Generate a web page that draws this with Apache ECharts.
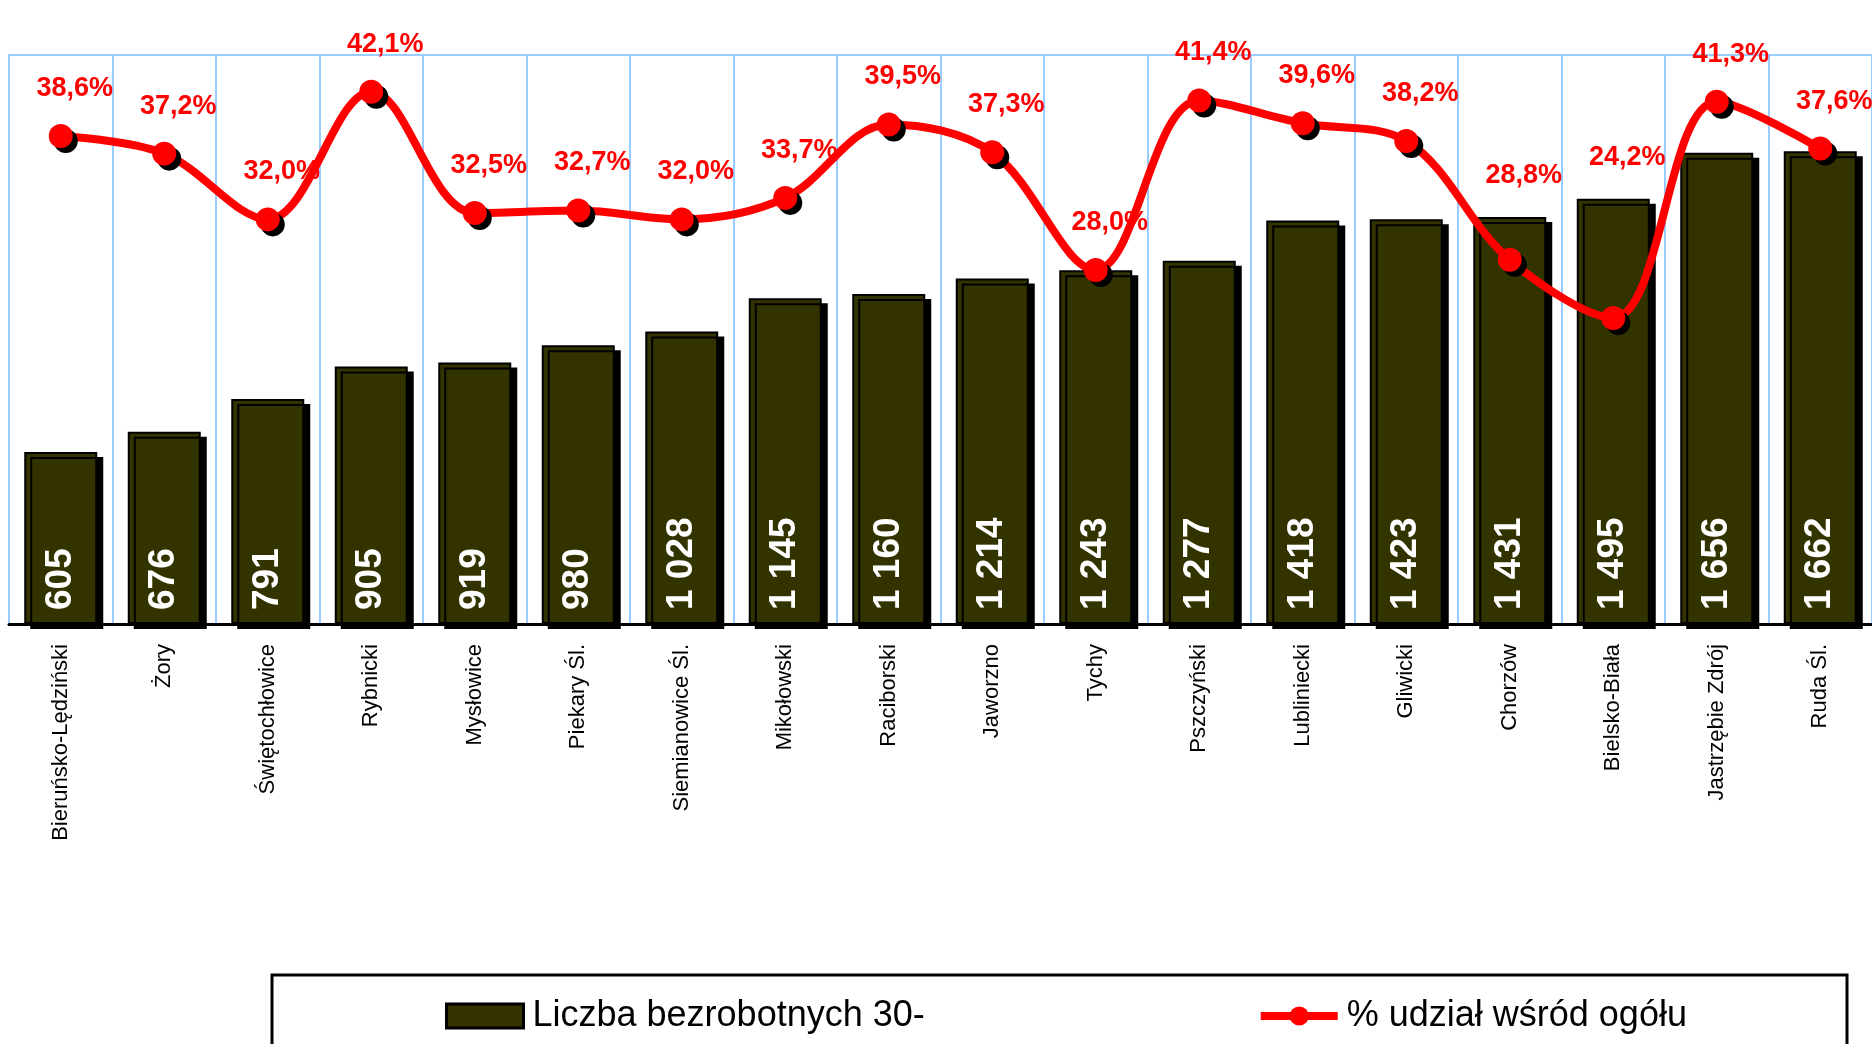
<!DOCTYPE html>
<html>
<head>
<meta charset="utf-8">
<script src="https://cdn.jsdelivr.net/npm/echarts@6/dist/echarts.min.js"></script>
<style>
    html, body { margin: 0; padding: 0; background: #fff; }
    #ET1 { width: 1872px; height: 1044px; }
</style>
</head>
<body>
<div id="ET1"></div>
<script>
var powiaty = ['Bieruńsko-Lędziński', 'Żory', 'Świętochłowice', 'Rybnicki', 'Mysłowice', 'Piekary Śl.',
    'Siemianowice Śl.', 'Mikołowski', 'Raciborski', 'Jaworzno', 'Tychy', 'Pszczyński', 'Lubliniecki',
    'Gliwicki', 'Chorzów', 'Bielsko-Biała', 'Jastrzębie Zdrój', 'Ruda Śl.'];
var liczba = [605, 676, 791, 905, 919, 980, 1028, 1145, 1160, 1214, 1243, 1277, 1418, 1423, 1431, 1495, 1656, 1662];
var udzial = [38.6, 37.2, 32.0, 42.1, 32.5, 32.7, 32.0, 33.7, 39.5, 37.3, 28.0, 41.4, 39.6, 38.2, 28.8, 24.2, 41.3, 37.6];

~function () {
    var myChart = echarts.init(ET1);
    var fontArial = '"Liberation Sans", Arial, sans-serif';
    var barMax = 2000, lineMax = 45;
    var gridTop = 55, gridBottom = 420;
    var plotH = 1044 - gridTop - gridBottom;

    function spaced(v) {
        return String(v).replace(/\B(?=(\d{3})+(?!\d))/g, ' ');
    }

    // gdy słupek sięga wyżej niż punkt linii, etykieta idzie nad słupek
    var lineData = udzial.map(function (v, i) {
        var gap = (liczba[i] / barMax - v / lineMax) * plotH;
        return {value: v, label: {distance: Math.max(22, gap + 16)}};
    });

    var option = {
        animation: false,
        grid: {
            left: 9,
            right: -18,
            top: gridTop,
            bottom: gridBottom,
            show: true,
            borderColor: '#99CCFF',
            borderWidth: 2
        },
        legend: {
            left: 440,
            top: 993,
            itemWidth: 77,
            itemHeight: 24,
            itemGap: 332,
            textStyle: {
                fontFamily: fontArial,
                fontSize: 36,
                color: '#000',
                padding: [0, 0, 0, 4]
            },
            data: [
                {
                    name: 'Liczba bezrobotnych 30-',
                    icon: 'rect',
                    itemStyle: {shadowOffsetX: 0, shadowOffsetY: 0, shadowColor: 'transparent', borderWidth: 3}
                },
                {
                    name: '% udział wśród ogółu',
                    itemStyle: {shadowOffsetX: 0, shadowOffsetY: 0, shadowColor: 'transparent'},
                    lineStyle: {width: 8}
                }
            ]
        },
        graphic: [
            {
                type: 'rect',
                shape: {x: 272, y: 975, width: 1575, height: 120},
                style: {fill: 'none', stroke: '#000', lineWidth: 3}
            }
        ],
        xAxis: [
            {
                type: 'category',
                data: powiaty,
                axisLine: {lineStyle: {color: '#000', width: 3}},
                axisTick: {show: false},
                splitLine: {show: true, lineStyle: {color: '#99CCFF', width: 2}},
                axisLabel: {
                    rotate: 90,
                    margin: 20,
                    fontFamily: fontArial,
                    fontSize: 22,
                    color: '#000',
                    interval: 0
                }
            }
        ],
        yAxis: [
            {
                type: 'value',
                min: 0,
                max: barMax,
                show: false,
                splitLine: {show: false}
            },
            {
                type: 'value',
                min: 0,
                max: lineMax,
                show: false,
                splitLine: {show: false}
            }
        ],
        series: [
            {
                name: 'Liczba bezrobotnych 30-',
                type: 'bar',
                yAxisIndex: 0,
                barWidth: 73,
                data: liczba,
                itemStyle: {
                    color: '#333300',
                    borderColor: '#000',
                    borderWidth: 2,
                    shadowColor: '#000',
                    shadowBlur: 0,
                    shadowOffsetX: 6,
                    shadowOffsetY: 5
                },
                label: {
                    show: true,
                    position: 'insideBottom',
                    rotate: 90,
                    align: 'left',
                    verticalAlign: 'middle',
                    distance: 14,
                    fontFamily: fontArial,
                    fontWeight: 'bold',
                    fontSize: 37,
                    color: '#fff',
                    formatter: function (p) { return spaced(p.value); }
                }
            },
            {
                name: '% udział wśród ogółu',
                type: 'line',
                yAxisIndex: 1,
                smooth: 0.35,
                data: lineData,
                symbol: 'circle',
                symbolSize: 24,
                z: 5,
                lineStyle: {color: '#FF0000', width: 8},
                itemStyle: {
                    color: '#FF0000',
                    shadowColor: '#000',
                    shadowBlur: 0,
                    shadowOffsetX: 5,
                    shadowOffsetY: 5
                },
                label: {
                    show: true,
                    position: 'top',
                    offset: [14, 0],
                    fontFamily: fontArial,
                    fontWeight: 'bold',
                    fontSize: 27,
                    color: '#FF0000',
                    formatter: function (p) { return p.value.toFixed(1).replace('.', ',') + '%'; }
                }
            }
        ]
    };
    myChart.setOption(option);
}();
</script>
</body>
</html>
